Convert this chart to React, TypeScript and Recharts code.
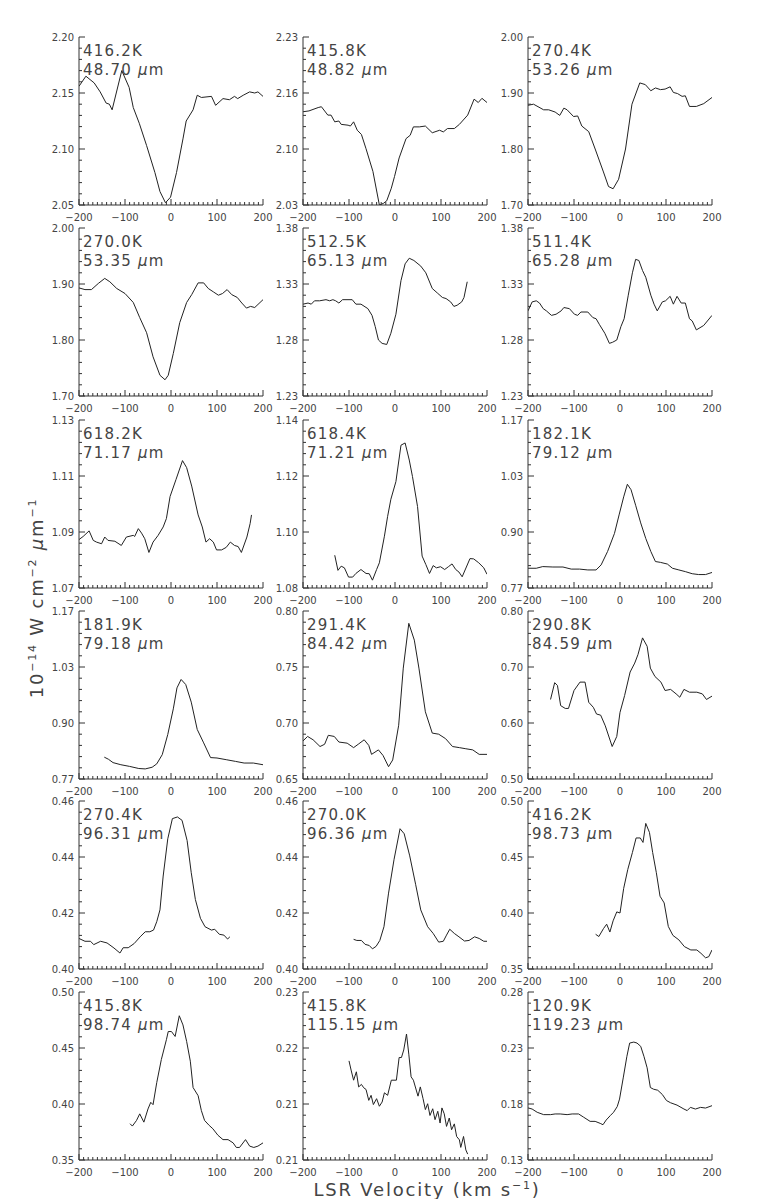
import React from "react";
import { LineChart, Line, XAxis, YAxis } from "recharts";

const FRAME = "#333";
const INK = "#222";
const TEXT = "#444";
const FONT = "'DejaVu Sans', sans-serif";

// page layout (plot-area corners of each small panel)
const COL_X = [79, 303, 528];
const ROW_Y = [37, 228, 420, 611, 801, 992];
const PLOT_W = 184;
const PLOT_H = 168;
const Y_AXIS_W = 45;
const X_AXIS_H = 20;
const PAD_TOP = 5;
const PAD_RIGHT = 10;
const MAJOR_LEN = 6;
const MINOR_LEN = 3;

// labels
const temps = ["416.2K", "415.8K", "270.4K", "270.0K", "512.5K", "511.4K", "618.2K", "618.4K", "182.1K", "181.9K", "291.4K", "290.8K", "270.4K", "270.0K", "416.2K", "415.8K", "415.8K", "120.9K"];
const waves = ["48.70", "48.82", "53.26", "53.35", "65.13", "65.28", "71.17", "71.21", "79.12", "79.18", "84.42", "84.59", "96.31", "96.36", "98.73", "98.74", "115.15", "119.23"];

const yDomains: [number, number][] = [
  [2.05, 2.2], [2.03, 2.23], [1.7, 2.0], [1.7, 2.0], [1.23, 1.38], [1.23, 1.38],
  [1.07, 1.13], [1.08, 1.14], [0.77, 1.17], [0.77, 1.17], [0.65, 0.8], [0.5, 0.8],
  [0.4, 0.46], [0.4, 0.46], [0.35, 0.5], [0.35, 0.5], [0.205, 0.225], [0.13, 0.28],
];
const yLabels: string[][] = [
  ["2.05", "2.10", "2.15", "2.20"], ["2.03", "2.10", "2.16", "2.23"],
  ["1.70", "1.80", "1.90", "2.00"], ["1.70", "1.80", "1.90", "2.00"],
  ["1.23", "1.28", "1.33", "1.38"], ["1.23", "1.28", "1.33", "1.38"],
  ["1.07", "1.09", "1.11", "1.13"], ["1.08", "1.10", "1.12", "1.14"],
  ["0.77", "0.90", "1.03", "1.17"], ["0.77", "0.90", "1.03", "1.17"],
  ["0.65", "0.70", "0.75", "0.80"], ["0.50", "0.60", "0.70", "0.80"],
  ["0.40", "0.42", "0.44", "0.46"], ["0.40", "0.42", "0.44", "0.46"],
  ["0.35", "0.40", "0.45", "0.50"], ["0.35", "0.40", "0.45", "0.50"],
  ["0.21", "0.21", "0.22", "0.23"], ["0.13", "0.18", "0.23", "0.28"],
];

const xTicks = [-200, -190, -180, -170, -160, -150, -140, -130, -120, -110, -100, -90, -80, -70, -60, -50, -40, -30, -20, -10, 0,
  10, 20, 30, 40, 50, 60, 70, 80, 90, 100, 110, 120, 130, 140, 150, 160, 170, 180, 190, 200];

// spectra: LSR velocity (km/s) and flux (1e-14 W cm^-2 um^-1)
const vel01 = [-200, -185, -167, -154, -141, -134, -128, -107, -91, -82, -69, -53, -35, -24, -12, -1, 12, 26, 33, 48, 57, 66, 88, 97, 113, 127, 138, 145, 157, 171, 182, 189, 200];
const flux01 = [2.156, 2.165, 2.159, 2.151, 2.141, 2.14, 2.135, 2.17, 2.155, 2.137, 2.123, 2.103, 2.079, 2.062, 2.052, 2.057, 2.079, 2.109, 2.125, 2.135, 2.148, 2.146, 2.147, 2.139, 2.145, 2.144, 2.147, 2.145, 2.148, 2.151, 2.15, 2.151, 2.147];

const vel02 = [-200, -187, -167, -160, -146, -139, -131, -122, -117, -102, -97, -90, -82, -73, -63, -48, -34, -25, -18, -8, -1, 9, 24, 33, 40, 53, 66, 81, 97, 105, 114, 129, 140, 158, 172, 181, 189, 200];
const flux02 = [2.141, 2.142, 2.146, 2.147, 2.137, 2.137, 2.129, 2.13, 2.126, 2.125, 2.124, 2.129, 2.119, 2.114, 2.097, 2.07, 2.03, 2.032, 2.035, 2.05, 2.064, 2.086, 2.109, 2.113, 2.123, 2.123, 2.124, 2.116, 2.119, 2.117, 2.121, 2.121, 2.126, 2.137, 2.156, 2.152, 2.157, 2.152];

const vel03 = [-200, -188, -166, -155, -141, -131, -122, -115, -101, -92, -83, -68, -54, -36, -25, -15, -3, 12, 26, 43, 55, 67, 77, 88, 98, 109, 116, 125, 135, 142, 151, 166, 182, 200];
const flux03 = [1.878, 1.88, 1.87, 1.87, 1.866, 1.86, 1.873, 1.87, 1.858, 1.859, 1.841, 1.831, 1.8, 1.759, 1.733, 1.729, 1.746, 1.8, 1.88, 1.918, 1.915, 1.904, 1.909, 1.906, 1.907, 1.911, 1.901, 1.899, 1.894, 1.895, 1.876, 1.876, 1.881, 1.892];

const vel04 = [-200, -187, -173, -158, -144, -133, -118, -100, -82, -68, -53, -39, -24, -13, -6, 5, 19, 34, 45, 59, 71, 81, 92, 103, 112, 122, 132, 144, 154, 164, 173, 182, 200];
const flux04 = [1.893, 1.89, 1.89, 1.901, 1.91, 1.904, 1.892, 1.883, 1.867, 1.84, 1.813, 1.77, 1.737, 1.729, 1.737, 1.776, 1.831, 1.867, 1.881, 1.902, 1.902, 1.892, 1.886, 1.88, 1.883, 1.89, 1.881, 1.876, 1.866, 1.857, 1.86, 1.858, 1.872];

const vel05 = [-200, -189, -182, -175, -164, -150, -142, -135, -129, -122, -114, -93, -85, -74, -59, -50, -43, -36, -28, -18, -9, 2, 13, 22, 31, 41, 56, 67, 81, 92, 103, 111, 121, 128, 135, 145, 150, 157];
const flux05 = [1.312, 1.313, 1.312, 1.315, 1.315, 1.316, 1.315, 1.316, 1.315, 1.313, 1.316, 1.316, 1.312, 1.312, 1.308, 1.302, 1.292, 1.28, 1.277, 1.276, 1.286, 1.303, 1.333, 1.348, 1.353, 1.351, 1.346, 1.34, 1.326, 1.322, 1.318, 1.317, 1.314, 1.31, 1.311, 1.314, 1.318, 1.332];

const vel06 = [-200, -191, -182, -175, -167, -160, -149, -139, -128, -122, -110, -99, -92, -85, -70, -59, -52, -45, -33, -23, -16, -7, 2, 9, 18, 27, 34, 41, 49, 56, 67, 74, 81, 92, 99, 109, 116, 124, 133, 142, 151, 157, 166, 182, 200];
const flux06 = [1.306, 1.314, 1.315, 1.313, 1.308, 1.306, 1.302, 1.303, 1.306, 1.309, 1.308, 1.303, 1.302, 1.305, 1.305, 1.3, 1.299, 1.294, 1.286, 1.277, 1.278, 1.28, 1.292, 1.299, 1.32, 1.34, 1.352, 1.351, 1.342, 1.336, 1.32, 1.312, 1.306, 1.314, 1.315, 1.319, 1.312, 1.319, 1.313, 1.313, 1.299, 1.297, 1.289, 1.293, 1.302];

const vel07 = [-200, -191, -178, -169, -162, -151, -144, -137, -122, -108, -97, -82, -79, -71, -64, -57, -48, -39, -28, -17, -10, -2, 11, 25, 34, 45, 59, 68, 76, 84, 92, 99, 110, 120, 129, 138, 146, 153, 165, 172, 175];
const flux07 = [1.0873, 1.0884, 1.0904, 1.087, 1.0864, 1.0858, 1.0882, 1.087, 1.0867, 1.0852, 1.0882, 1.0888, 1.0884, 1.0912, 1.0896, 1.0876, 1.0827, 1.0864, 1.0888, 1.0918, 1.0948, 1.1027, 1.1088, 1.1155, 1.113, 1.1064, 1.0961, 1.0918, 1.0864, 1.0876, 1.0864, 1.0836, 1.0836, 1.0845, 1.0864, 1.0852, 1.0848, 1.0827, 1.0882, 1.093, 1.0961];

const vel08 = [-131, -124, -117, -110, -101, -92, -85, -74, -63, -56, -49, -40, -34, -23, -16, -9, 2, 13, 22, 31, 38, 49, 59, 67, 75, 83, 90, 99, 108, 116, 124, 132, 139, 146, 163, 171, 182, 193, 200];
const flux08 = [1.0917, 1.0863, 1.0878, 1.0872, 1.0839, 1.0839, 1.0852, 1.0866, 1.0852, 1.0851, 1.0828, 1.0866, 1.089, 1.0985, 1.1056, 1.1117, 1.118, 1.131, 1.1318, 1.1257, 1.1198, 1.1091, 1.0914, 1.0884, 1.0852, 1.088, 1.0872, 1.0876, 1.0866, 1.0876, 1.0886, 1.0866, 1.0857, 1.084, 1.0905, 1.0904, 1.089, 1.0872, 1.0849];

const vel09 = [-200, -182, -168, -146, -124, -106, -88, -70, -52, -41, -27, -12, -2, 8, 16, 24, 34, 45, 56, 67, 77, 88, 103, 114, 128, 142, 157, 171, 186, 200];
const flux09 = [0.817, 0.817, 0.821, 0.82, 0.82, 0.815, 0.815, 0.813, 0.813, 0.825, 0.857, 0.9, 0.944, 0.987, 1.017, 1.004, 0.967, 0.925, 0.888, 0.857, 0.833, 0.831, 0.827, 0.817, 0.813, 0.809, 0.804, 0.802, 0.802, 0.807];

const vel10 = [-145, -136, -126, -109, -90, -70, -56, -41, -31, -19, -7, 5, 13, 22, 32, 44, 57, 71, 86, 100, 120, 140, 159, 179, 200];
const flux10 = [0.822, 0.817, 0.809, 0.804, 0.8, 0.795, 0.794, 0.798, 0.806, 0.828, 0.876, 0.937, 0.987, 1.007, 0.995, 0.953, 0.888, 0.856, 0.821, 0.82, 0.816, 0.812, 0.808, 0.808, 0.804];

const vel11 = [-200, -190, -178, -163, -153, -145, -132, -122, -104, -90, -80, -67, -57, -51, -36, -26, -14, -5, 8, 18, 30, 42, 52, 66, 81, 95, 110, 125, 140, 154, 169, 183, 200];
const flux11 = [0.684, 0.688, 0.685, 0.679, 0.681, 0.689, 0.688, 0.683, 0.682, 0.678, 0.681, 0.685, 0.68, 0.672, 0.676, 0.671, 0.661, 0.667, 0.698, 0.749, 0.789, 0.774, 0.749, 0.71, 0.691, 0.69, 0.686, 0.679, 0.678, 0.677, 0.676, 0.672, 0.672];

const vel12 = [-151, -142, -136, -129, -119, -112, -100, -87, -76, -68, -58, -51, -42, -32, -17, -7, 0, 10, 22, 32, 39, 49, 59, 66, 76, 89, 98, 110, 122, 130, 139, 151, 167, 179, 188, 200];
const flux12 = [0.642, 0.672, 0.667, 0.631, 0.626, 0.626, 0.658, 0.673, 0.673, 0.637, 0.628, 0.616, 0.614, 0.595, 0.558, 0.576, 0.619, 0.649, 0.691, 0.707, 0.722, 0.752, 0.737, 0.698, 0.683, 0.673, 0.658, 0.66, 0.652, 0.646, 0.66, 0.655, 0.655, 0.652, 0.642, 0.648];

const vel13 = [-200, -187, -175, -168, -153, -139, -124, -111, -104, -93, -80, -67, -56, -46, -38, -31, -24, -17, -7, 3, 14, 24, 35, 44, 53, 64, 74, 88, 95, 105, 115, 123, 128];
const flux13 = [0.4109, 0.4099, 0.4099, 0.4087, 0.4099, 0.4093, 0.4075, 0.4057, 0.4076, 0.4076, 0.4091, 0.4115, 0.4133, 0.4133, 0.4139, 0.4169, 0.4211, 0.4332, 0.4465, 0.4537, 0.4543, 0.4531, 0.4459, 0.4344, 0.4248, 0.4181, 0.4151, 0.4139, 0.4142, 0.4124, 0.4121, 0.4107, 0.4115];

const vel14 = [-90, -83, -73, -65, -56, -49, -41, -33, -24, -14, -2, 11, 20, 32, 45, 56, 71, 83, 95, 105, 112, 119, 129, 139, 151, 161, 173, 183, 193, 200];
const flux14 = [0.4106, 0.4102, 0.4102, 0.4088, 0.4084, 0.4072, 0.4081, 0.4102, 0.4151, 0.4271, 0.4392, 0.4501, 0.4483, 0.4404, 0.4301, 0.4211, 0.4151, 0.4127, 0.4096, 0.4099, 0.4121, 0.4142, 0.4127, 0.4115, 0.41, 0.4102, 0.4115, 0.4109, 0.4099, 0.4099];

const vel15 = [-53, -46, -36, -29, -22, -15, -7, 0, 8, 17, 27, 35, 44, 50, 56, 64, 71, 79, 87, 96, 105, 115, 128, 140, 154, 167, 176, 186, 193, 200];
const flux15 = [0.381, 0.379, 0.386, 0.39, 0.383, 0.393, 0.401, 0.4, 0.422, 0.439, 0.454, 0.467, 0.467, 0.463, 0.48, 0.472, 0.454, 0.436, 0.415, 0.409, 0.388, 0.38, 0.376, 0.37, 0.367, 0.367, 0.364, 0.36, 0.361, 0.367];

const vel16 = [-89, -84, -75, -68, -59, -50, -44, -39, -31, -21, -10, -6, 1, 9, 18, 26, 34, 42, 48, 59, 66, 73, 83, 91, 102, 113, 124, 135, 142, 149, 162, 171, 180, 189, 200];
const flux16 = [0.3824, 0.3803, 0.3853, 0.3912, 0.3838, 0.3956, 0.4015, 0.3994, 0.4191, 0.4397, 0.4574, 0.4647, 0.4647, 0.4603, 0.4788, 0.4706, 0.4559, 0.4382, 0.4147, 0.4074, 0.3941, 0.3853, 0.3809, 0.3779, 0.3721, 0.3682, 0.3682, 0.3653, 0.3612, 0.3612, 0.3682, 0.3624, 0.3612, 0.3624, 0.3653];

const vel17 = [-100, -95, -90, -84, -79, -73, -68, -63, -57, -52, -47, -40, -34, -28, -23, -16, -8, 3, 9, 14, 19, 25, 30, 35, 40, 50, 55, 61, 66, 71, 76, 82, 87, 93, 98, 102, 107, 112, 118, 123, 129, 134, 140, 143, 149, 154, 158];
const flux17 = [0.2168, 0.2156, 0.2145, 0.2155, 0.2137, 0.214, 0.2136, 0.2134, 0.2121, 0.2127, 0.2116, 0.2123, 0.2114, 0.2119, 0.213, 0.2127, 0.2145, 0.2145, 0.2172, 0.2172, 0.2181, 0.22, 0.2176, 0.2149, 0.2145, 0.2126, 0.2137, 0.2123, 0.211, 0.2117, 0.2103, 0.2111, 0.2098, 0.2108, 0.2094, 0.2112, 0.2105, 0.209, 0.21, 0.2086, 0.2093, 0.2078, 0.2074, 0.2065, 0.2078, 0.2062, 0.2057];

const vel18 = [-200, -191, -180, -166, -151, -141, -130, -115, -104, -90, -79, -65, -54, -43, -37, -30, -21, -14, -6, -1, 7, 15, 21, 30, 37, 45, 52, 59, 66, 73, 82, 92, 101, 110, 124, 139, 146, 153, 164, 175, 186, 200];
const flux18 = [0.1765, 0.1755, 0.1726, 0.1705, 0.1705, 0.1711, 0.1711, 0.1705, 0.1711, 0.1711, 0.1682, 0.1645, 0.1645, 0.1627, 0.1615, 0.1657, 0.1697, 0.1726, 0.1777, 0.1844, 0.2033, 0.2226, 0.2344, 0.2353, 0.2344, 0.2315, 0.2226, 0.2123, 0.1947, 0.1932, 0.1923, 0.1885, 0.1831, 0.1811, 0.179, 0.1755, 0.1741, 0.177, 0.1755, 0.177, 0.1764, 0.1785];

const velocities = [vel01, vel02, vel03, vel04, vel05, vel06, vel07, vel08, vel09, vel10, vel11, vel12, vel13, vel14, vel15, vel16, vel17, vel18];
const fluxes = [flux01, flux02, flux03, flux04, flux05, flux06, flux07, flux08, flux09, flux10, flux11, flux12, flux13, flux14, flux15, flux16, flux17, flux18];

const fmtX = (v: number) => (v < 0 ? `\u2212${-v}` : `${v}`);
const isMajorX = (v: number) => Math.abs(v) % 100 === 0;

// IDL-style inward ticks on all four sides
function BottomTick({ x, y, payload }: any) {
  const major = isMajorX(payload.value);
  return (
    <g>
      <line x1={x} x2={x} y1={y} y2={y - (major ? MAJOR_LEN : MINOR_LEN)} stroke={FRAME} strokeWidth={1} />
      {major && (
        <text x={x} y={y + 16} textAnchor="middle" fontSize={10} fontFamily={FONT} fill={TEXT}>
          {fmtX(payload.value)}
        </text>
      )}
    </g>
  );
}

function TopTick({ x, y, payload }: any) {
  const major = isMajorX(payload.value);
  return <line x1={x} x2={x} y1={y} y2={y + (major ? MAJOR_LEN : MINOR_LEN)} stroke={FRAME} strokeWidth={1} />;
}

function leftTick(labels: string[]) {
  return ({ x, y, index }: any) => {
    const major = index % 5 === 0;
    return (
      <g>
        <line x1={x} x2={x + (major ? MAJOR_LEN : MINOR_LEN)} y1={y} y2={y} stroke={FRAME} strokeWidth={1} />
        {major && (
          <text x={x - 5} y={y} dy="0.36em" textAnchor="end" fontSize={10} fontFamily={FONT} fill={TEXT}>
            {labels[index / 5]}
          </text>
        )}
      </g>
    );
  };
}

function RightTick({ x, y, index }: any) {
  const major = index % 5 === 0;
  return <line x1={x} x2={x - (major ? MAJOR_LEN : MINOR_LEN)} y1={y} y2={y} stroke={FRAME} strokeWidth={1} />;
}

function Panel({ i }: { i: number }) {
  const row = Math.floor(i / 3);
  const col = i % 3;
  const data = velocities[i].map((x, k) => ({ x, v: fluxes[i][k] }));
  const [lo, hi] = yDomains[i];
  const yTicks = Array.from({ length: 16 }, (_, k) => lo + ((hi - lo) * k) / 15);
  const left = COL_X[col];
  const top = ROW_Y[row];

  return (
    <>
      <div style={{ position: "absolute", left: left - Y_AXIS_W, top: top - PAD_TOP }}>
        <LineChart
          width={Y_AXIS_W + PLOT_W + PAD_RIGHT}
          height={PAD_TOP + PLOT_H + X_AXIS_H}
          data={data}
          margin={{ top: PAD_TOP, right: PAD_RIGHT, bottom: 0, left: 0 }}
          style={{ overflow: "visible" }}
        >
          <XAxis
            dataKey="x"
            type="number"
            domain={[-200, 200]}
            ticks={xTicks}
            interval={0}
            allowDataOverflow
            height={X_AXIS_H}
            tickSize={0}
            tickMargin={0}
            tickLine={false}
            axisLine={{ stroke: FRAME }}
            tick={BottomTick}
          />
          <XAxis
            xAxisId="top"
            orientation="top"
            type="number"
            domain={[-200, 200]}
            ticks={xTicks}
            interval={0}
            allowDataOverflow
            height={0}
            tickSize={0}
            tickMargin={0}
            tickLine={false}
            axisLine={{ stroke: FRAME }}
            tick={TopTick}
          />
          <YAxis
            type="number"
            domain={[lo, hi]}
            ticks={yTicks}
            interval={0}
            allowDataOverflow
            width={Y_AXIS_W}
            tickSize={0}
            tickMargin={0}
            tickLine={false}
            axisLine={{ stroke: FRAME }}
            tick={leftTick(yLabels[i])}
          />
          <YAxis
            yAxisId="r"
            orientation="right"
            type="number"
            domain={[lo, hi]}
            ticks={yTicks}
            interval={0}
            allowDataOverflow
            width={0}
            tickSize={0}
            tickMargin={0}
            tickLine={false}
            axisLine={{ stroke: FRAME }}
            tick={RightTick}
          />
          <Line
            type="linear"
            dataKey="v"
            stroke={INK}
            strokeWidth={1}
            dot={false}
            activeDot={false}
            isAnimationActive={false}
          />
        </LineChart>
      </div>
      <div
        style={{
          position: "absolute",
          left: left + 4,
          top: top + 5,
          fontFamily: FONT,
          fontSize: 15,
          lineHeight: "19px",
          letterSpacing: 1.2,
          color: TEXT,
          whiteSpace: "nowrap",
        }}
      >
        <div>{temps[i]}</div>
        <div>
          {waves[i]} <span style={{ fontStyle: "italic" }}>μ</span>m
        </div>
      </div>
    </>
  );
}

export default function App() {
  return (
    <div style={{ position: "absolute", left: 0, top: 0, width: 763, height: 1199, background: "#fff", overflow: "hidden" }}>
      {temps.map((_, i) => (
        <Panel key={i} i={i} />
      ))}
      <svg width={763} height={1199} style={{ position: "absolute", left: 0, top: 0, pointerEvents: "none" }}>
        <text
          x={43}
          y={598}
          transform="rotate(-90 43 598)"
          textAnchor="middle"
          fontFamily={FONT}
          fontSize={18}
          letterSpacing={1.8}
          fill={TEXT}
        >
          10<tspan dy={-7} fontSize={11}>−14</tspan>
          <tspan dy={7}> W cm</tspan>
          <tspan dy={-7} fontSize={11}>−2</tspan>
          <tspan dy={7}> </tspan>
          <tspan fontStyle="italic">μ</tspan>
          <tspan>m</tspan>
          <tspan dy={-7} fontSize={11}>−1</tspan>
        </text>
        <text x={427} y={1196} textAnchor="middle" fontFamily={FONT} fontSize={18} letterSpacing={1.8} fill={TEXT}>
          LSR Velocity (km s<tspan dy={-7} fontSize={11}>−1</tspan>
          <tspan dy={7}>)</tspan>
        </text>
      </svg>
    </div>
  );
}
